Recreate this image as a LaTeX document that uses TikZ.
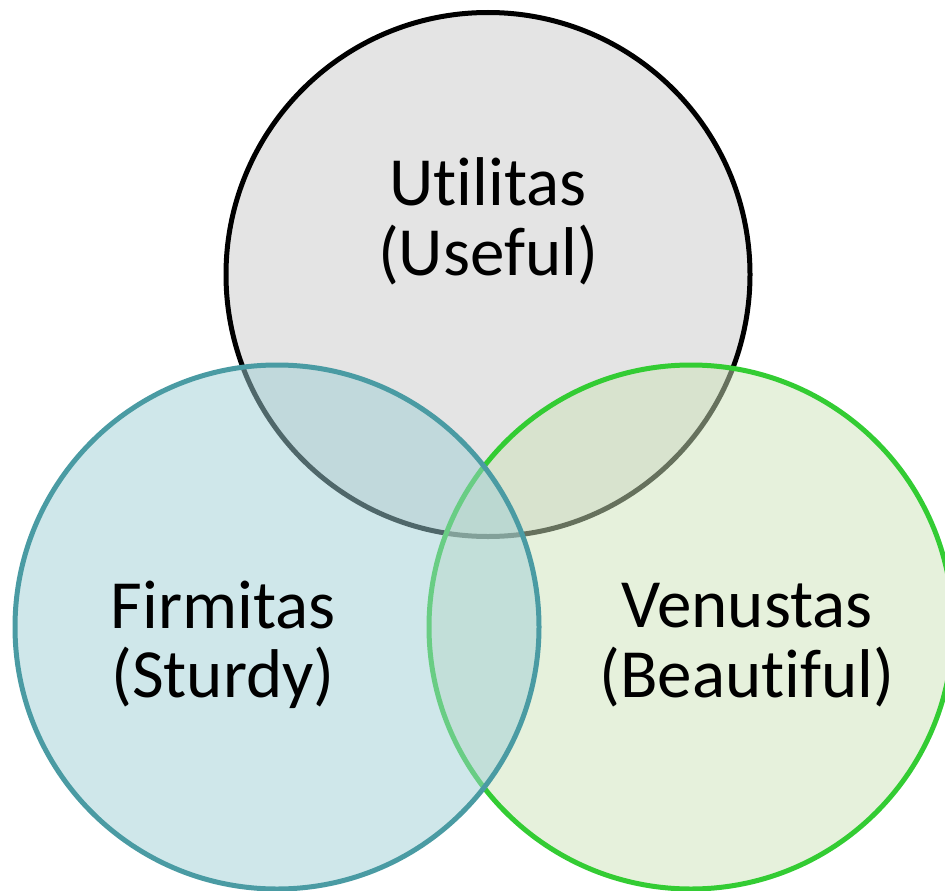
\documentclass[tikz,border=0pt]{standalone}
\usepackage{fontspec}
\setmainfont{Carlito}[Ligatures={NoCommon}]
\definecolor{topfill}{RGB}{228,228,228}
\definecolor{leftfill}{RGB}{159,207,213}
\definecolor{leftline}{RGB}{74,155,163}
\definecolor{rightfill}{RGB}{205,227,186}
\definecolor{rightline}{RGB}{51,204,51}
\tikzset{
  ring/.style={circle, minimum size=524pt, inner sep=0pt, line width=5pt},
  lbl/.style={anchor=base, inner sep=0pt, font=\fontsize{69}{70}\selectfont, text=black}
}
\begin{document}
\begin{tikzpicture}[x=1pt,y=-1pt]
\useasboundingbox (0,0) rectangle (945,891);
\clip (0,0) rectangle (945,891);
\node[ring, draw=black, fill=topfill] (utilitas) at (488,274.5) {};
\node[ring, draw=rightline, fill=rightfill, fill opacity=0.5] (venustas) at (691,627) {};
\node[ring, draw=leftline, fill=leftfill, fill opacity=0.5] (firmitas) at (277,627) {};
\node[lbl] (u1) at (488,205) {Utilitas};
\node[lbl] (u2) at (488,275) {(Useful)};
\node[lbl] (f1) at (223,628) {Firmitas};
\node[lbl] (f2) at (223,697) {(Sturdy)};
\node[lbl] (v1) at (747,627) {Venustas};
\node[lbl] (v2) at (747,697) {(Beautiful)};
\end{tikzpicture}
\end{document}
